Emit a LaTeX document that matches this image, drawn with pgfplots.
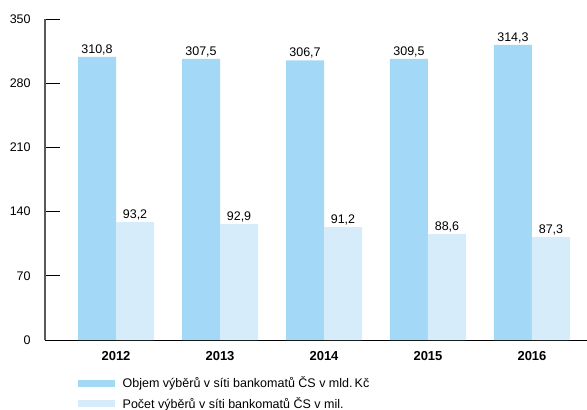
\documentclass[border=0pt]{standalone}
\usepackage{pgfplots}
\usepackage{pgfplotstable}
\pgfplotsset{compat=1.18}
\usepackage{fontspec}
\setmainfont{Liberation Sans}
\definecolor{darkbar}{RGB}{163,217,246}
\definecolor{lightbar}{RGB}{214,236,250}
% columns: x position, drawn bar height (as in the picture), labelled value
\pgfplotstableread{
x h v
0 308.8 310.8
1 306.6 307.5
2 304.8 306.7
3 306.6 309.5
4 321.9 314.3
}\objem
\pgfplotstableread{
x h v
0 128.6 93.2
1 126.4 92.9
2 123.1 91.2
3 115.5 88.6
4 112.2 87.3
}\pocet
\begin{document}
\fontsize{12.5}{14}\selectfont
\begin{tikzpicture}
\useasboundingbox (-45pt,-70pt) rectangle (542pt,340pt);
\begin{axis}[at={(0pt,0pt)}, anchor=south west, scale only axis, width=542pt, height=321pt,
  xmin=-0.683, xmax=4.529, ymin=0, ymax=350, ytick={0,70,140,210,280,350},
  /pgf/number format/assume math mode=true,
  bar width=38pt, clip=false,
  xtick={0,1,2,3,4}, xticklabels={2012,2013,2014,2015,2016},
  axis x line=bottom, axis y line=left, tick align=inside,
  ytick pos=left, xtick pos=bottom,
  x tick label style={font=\fontsize{13}{15}\selectfont\bfseries, yshift=-7pt},
  y tick label style={font=\fontsize{12.5}{14}\selectfont, xshift=-10pt},
  major tick length=15pt,
  xtick style={draw=none},
  ytick style={draw=black, line width=0.8pt},
  y axis line style={black!65, line width=1.2pt, -},
  x axis line style={black, line width=0.8pt, -},
  point meta=explicit,
  nodes near coords={\pgfmathprintnumber[fixed,fixed zerofill,precision=1,use comma]{\pgfplotspointmeta}},
  legend image code/.code={\fill (0pt,-3.5pt) rectangle (37pt,3.5pt);},
  legend style={at={(axis description cs:0,0)}, anchor=north west, xshift=33pt, yshift=-36.5pt,
    draw=none, fill=none, inner sep=0pt, row sep=7.8pt, column sep=7.5pt,
    nodes={inner sep=0pt}, font=\fontsize{12.5}{14}\selectfont},
  legend cell align=left,
]
\addplot[ybar, fill=darkbar, draw=none, bar shift=-19pt,
  nodes near coords style={font=\fontsize{12.5}{14}\selectfont, inner sep=1.8pt, text=black, xshift=-19pt}]
  table[x=x, y=h, meta=v] {\objem};
\addlegendentry{Objem výběrů v síti bankomatů ČS v mld.\,Kč}
\addplot[ybar, fill=lightbar, draw=none, bar shift=19pt,
  nodes near coords style={font=\fontsize{12.5}{14}\selectfont, inner sep=1.8pt, text=black, xshift=19pt}]
  table[x=x, y=h, meta=v] {\pocet};
\addlegendentry{Počet výběrů v síti bankomatů ČS v mil.}
\end{axis}
\end{tikzpicture}
\end{document}
